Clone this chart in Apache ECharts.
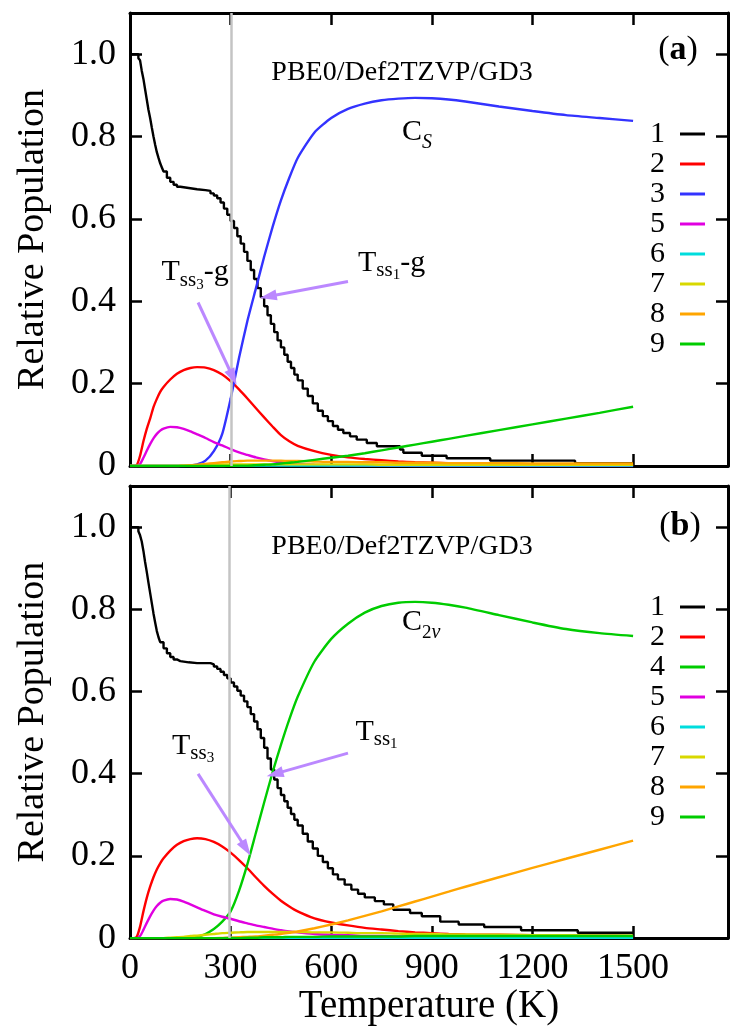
<!DOCTYPE html>
<html><head><meta charset="utf-8">
<script src="https://cdn.jsdelivr.net/npm/echarts@6/dist/echarts.min.js"></script>
<style>html,body{margin:0;padding:0;background:#fff}#c{width:730px;height:1027px}</style>
</head><body><div id="c"></div>
<script>
// ---------------- DATA ----------------
const temps = [0,10,20,30,40,50,60,70,80,90,100,120,140,160,180,200,225,250,275,300,325,350,375,400,425,450,475,500,550,600,650,700,750,800,850,900,950,1000,1100,1200,1300,1400,1500];

// panel (a)
const a_black_T = [0,15,25,30,35,40,45,50,55,60,65,70,75,80,85,90,95,100,110,120,130,140,150,175,200,225,240,250,260,270,280,290,300,310,320,330,340,350,360,370,380,390,400,410,420,430,440,450,460,470,480,490,500,515,530,545,560,575,590,605,620,636,656,676,706,736,805,815,870,944,1074,1327,1500];
const a_black_V = [1.0,1.0,0.99,0.985,0.96,0.94,0.915,0.89,0.865,0.845,0.822,0.8,0.78,0.762,0.748,0.735,0.725,0.715,0.70,0.69,0.683,0.678,0.675,0.672,0.67,0.668,0.662,0.657,0.65,0.64,0.625,0.61,0.595,0.578,0.558,0.54,0.52,0.498,0.476,0.454,0.432,0.41,0.388,0.366,0.345,0.325,0.305,0.288,0.27,0.253,0.238,0.222,0.208,0.188,0.17,0.152,0.134,0.121,0.109,0.097,0.088,0.08,0.072,0.064,0.056,0.048,0.04,0.032,0.025,0.019,0.013,0.007,0.007];
const a_s2 = [0,0,0.002,0.025,0.06,0.09,0.115,0.143,0.163,0.18,0.192,0.21,0.224,0.233,0.238,0.24,0.239,0.233,0.222,0.206,0.186,0.164,0.141,0.118,0.096,0.075,0.06,0.049,0.036,0.027,0.021,0.017,0.014,0.011,0.009,0.008,0.007,0.006,0.005,0.004,0.004,0.003,0.003];
const a_s3 = [0,0,0,0,0,0,0,0,0,0,0,0,0,0,0.001,0.004,0.013,0.036,0.078,0.163,0.262,0.352,0.43,0.508,0.58,0.645,0.7,0.748,0.81,0.845,0.867,0.88,0.888,0.892,0.894,0.893,0.89,0.885,0.873,0.862,0.852,0.845,0.838];
const a_s5 = [0,0,0,0.005,0.02,0.037,0.053,0.067,0.078,0.086,0.091,0.095,0.094,0.09,0.084,0.077,0.068,0.058,0.05,0.041,0.033,0.027,0.021,0.016,0.012,0.009,0.007,0.005,0.003,0.002,0.0015,0.001,0.001,0.0005,0,0,0,0,0,0,0,0,0];
const a_s6 = [0,0,0,0,0,0,0,0,0,0,0,0,0,0,0,0,0,0,0,0.001,0.001,0.001,0.001,0.001,0.001,0.001,0.001,0.001,0.001,0.001,0.001,0.001,0.001,0.001,0.001,0.001,0.001,0.001,0.001,0.001,0.001,0.001,0.001];
const a_s7 = [0,0,0,0,0,0,0,0,0,0,0,0,0,0.001,0.001,0.002,0.003,0.003,0.004,0.004,0.004,0.004,0.004,0.004,0.004,0.004,0.004,0.004,0.004,0.004,0.004,0.004,0.003,0.003,0.003,0.003,0.003,0.003,0.003,0.003,0.003,0.003,0.003];
const a_s8 = [0,0,0,0,0,0,0,0,0,0,0,0,0,0.001,0.002,0.003,0.005,0.007,0.009,0.011,0.012,0.013,0.013,0.013,0.013,0.013,0.012,0.012,0.011,0.01,0.01,0.009,0.009,0.008,0.008,0.008,0.007,0.007,0.007,0.006,0.006,0.006,0.006];
const a_s9 = [0,0,0,0,0,0,0,0,0,0,0,0,0,0,0,0,0,0,0,0.0005,0.001,0.001,0.002,0.003,0.004,0.006,0.008,0.01,0.015,0.02,0.025,0.031,0.038,0.045,0.052,0.059,0.066,0.073,0.087,0.101,0.115,0.129,0.144];

// panel (b)
const b_black_T = [0,15,25,30,35,40,45,50,55,60,65,70,75,80,85,90,100,110,120,130,140,150,175,200,225,240,250,260,270,280,290,300,310,320,330,340,350,360,370,380,390,400,410,420,430,440,450,460,470,480,490,500,515,530,545,560,575,590,605,620,640,660,680,700,730,757,785,835,870,925,980,1056,1166,1335,1500];
const b_black_V = [1.0,1.0,0.99,0.98,0.965,0.942,0.915,0.891,0.865,0.84,0.815,0.79,0.768,0.747,0.732,0.72,0.705,0.693,0.684,0.678,0.674,0.671,0.669,0.669,0.669,0.666,0.661,0.655,0.648,0.64,0.632,0.622,0.612,0.602,0.59,0.576,0.562,0.545,0.527,0.508,0.487,0.463,0.437,0.41,0.386,0.365,0.348,0.333,0.317,0.302,0.288,0.274,0.254,0.235,0.218,0.2,0.185,0.17,0.155,0.143,0.13,0.118,0.108,0.099,0.09,0.082,0.069,0.061,0.053,0.04,0.033,0.027,0.019,0.013,0.013];
const b_s2 = [0,0,0.003,0.028,0.065,0.098,0.125,0.148,0.167,0.182,0.194,0.213,0.227,0.236,0.241,0.243,0.241,0.234,0.223,0.208,0.19,0.17,0.148,0.127,0.108,0.091,0.077,0.065,0.048,0.038,0.031,0.025,0.021,0.017,0.014,0.012,0.01,0.009,0.008,0.007,0.006,0.006,0.005];
const b_s4 = [0,0,0,0,0,0,0,0,0,0,0,0,0,0,0.001,0.003,0.01,0.022,0.04,0.065,0.115,0.18,0.255,0.33,0.403,0.47,0.532,0.587,0.673,0.728,0.765,0.792,0.808,0.816,0.818,0.816,0.811,0.804,0.786,0.768,0.752,0.742,0.735];
const b_s5 = [0,0,0,0.005,0.02,0.037,0.053,0.067,0.078,0.086,0.091,0.095,0.094,0.089,0.082,0.075,0.066,0.058,0.052,0.047,0.041,0.036,0.031,0.027,0.023,0.019,0.016,0.014,0.01,0.008,0.007,0.005,0.005,0.004,0.004,0.003,0.003,0.003,0.002,0.002,0.002,0.002,0.002];
const b_s6 = [0,0,0,0,0,0,0,0,0,0,0,0,0,0,0,0,0,0,0,0.001,0.001,0.001,0.001,0.001,0.001,0.001,0.001,0.001,0.001,0.001,0.001,0.001,0.001,0.001,0.001,0.001,0.001,0.001,0.001,0.001,0.001,0.001,0.001];
const b_s7 = [0,0,0,0,0,0,0,0,0,0,0,0.001,0.002,0.003,0.005,0.006,0.008,0.01,0.012,0.013,0.014,0.015,0.015,0.015,0.015,0.015,0.015,0.015,0.014,0.014,0.013,0.012,0.012,0.011,0.01,0.01,0.009,0.009,0.008,0.007,0.007,0.006,0.006];
const b_s8 = [0,0,0,0,0,0,0,0,0,0,0,0,0,0,0,0,0,0,0.0005,0.001,0.002,0.003,0.004,0.006,0.008,0.01,0.013,0.016,0.024,0.033,0.043,0.054,0.065,0.077,0.089,0.101,0.113,0.125,0.148,0.171,0.193,0.215,0.237];
const b_s9 = [0,0,0,0,0,0,0,0,0,0,0,0,0,0,0,0,0,0,0,0,0,0.001,0.001,0.002,0.002,0.002,0.003,0.003,0.003,0.004,0.004,0.004,0.004,0.004,0.005,0.005,0.005,0.005,0.005,0.005,0.005,0.005,0.005];

const xTickValues = [0,300,600,900,1200,1500];
const xTickLabels = ['0','300','600','900','1200','1500'];
const yTickValues = [0,0.2,0.4,0.6,0.8,1.0];
const yTickLabels = ['0','0.2','0.4','0.6','0.8','1.0'];
const legendA = ['1','2','3','5','6','7','8','9'];
const legendB = ['1','2','4','5','6','7','8','9'];
const roomTempA = 302, roomTempB = 295;

// ---------------- STYLE ----------------
const FONT = "'Liberation Serif', 'Times New Roman', serif";
const COLORS = {'1':'#000000','2':'#ff0000','3':'#3333ff','4':'#00cc00','5':'#e000e0','6':'#00dddd','7':'#d8d800','8':'#ffa500','9':'#00cc00'};
const ARROW = '#bb88ff';
const XMAX = 1783;
const LW = 2.4;

function pairs(xs, ys){ return xs.map((x,i)=>[x, ys[i]]); }

function curve(name, vals, g){
  return {type:'line', name:name, xAxisIndex:g, yAxisIndex:g, data:pairs(temps, vals),
    symbol:'none', smooth:0.2, lineStyle:{width:LW, color:COLORS[name]}, itemStyle:{color:COLORS[name]},
    z:3, silent:true, animation:false};
}
function black(T, V, g){
  return {type:'line', name:'1', xAxisIndex:g, yAxisIndex:g, data:pairs(T, V), step:'end',
    symbol:'none', lineStyle:{width:LW, color:'#000'}, itemStyle:{color:'#000'}, z:3, silent:true, animation:false};
}

const rich = {
  t:{fontFamily:FONT, fontSize:30, color:'#000', verticalAlign:'bottom', lineHeight:30, padding:[0,0,6,0]},
  s:{fontFamily:FONT, fontSize:21, color:'#000', verticalAlign:'bottom', lineHeight:21, padding:[0,0,3,0]},
  n:{fontFamily:FONT, fontSize:15, color:'#000', verticalAlign:'bottom', lineHeight:15, padding:[0,0,1,0]},
  c:{fontFamily:FONT, fontSize:30, color:'#000', verticalAlign:'bottom', lineHeight:30, padding:[0,0,6,0]},
  si:{fontFamily:FONT, fontSize:20, fontStyle:'italic', color:'#000', verticalAlign:'bottom', lineHeight:20, padding:[0,0,0,0]},
  s2:{fontFamily:FONT, fontSize:19, color:'#000', verticalAlign:'bottom', lineHeight:19, padding:[0,0,0,0]},
  p:{fontFamily:FONT, fontSize:34, color:'#000'},
  b:{fontFamily:FONT, fontSize:34, fontWeight:'bold', color:'#000'},
  m:{fontFamily:FONT, fontSize:28, color:'#000'}
};

function textMark(coord, fmt){
  return {coord:coord, label:{formatter:fmt}};
}

function annSeries(g, texts, arrows){
  return {type:'line', name:'_ann'+g, xAxisIndex:g, yAxisIndex:g, data:[], z:10, silent:true, animation:false,
    markPoint:{symbol:'circle', symbolSize:1, silent:true, animation:false,
      itemStyle:{color:'rgba(0,0,0,0)'},
      label:{show:true, position:'inside', rich:rich, color:'#000'},
      data:texts},
    markLine:{silent:true, animation:false, symbol:['none','triangle'], symbolSize:[11,17],
      lineStyle:{color:ARROW, width:3, type:'solid'}, label:{show:false}, emphasis:{disabled:true},
      data:arrows}
  };
}
function bgSeries(g, T){
  return {type:'line', name:'_bg'+g, xAxisIndex:g, yAxisIndex:g, data:[], z:1, silent:true, animation:false,
    markLine:{silent:true, animation:false, symbol:['none','none'], label:{show:false},
      lineStyle:{color:'#c4c4c4', width:2.5, type:'solid'}, emphasis:{disabled:true},
      data:[{xAxis:T}]}};
}

function xAxes(g, showLabels){
  const common = {gridIndex:g, type:'value', min:0, max:XMAX, splitLine:{show:false},
    axisLine:{show:true, onZero:false, lineStyle:{color:'#000', width:3}},
    axisTick:{show:true, inside:true, length:12, lineStyle:{color:'#000', width:2.5}, customValues:xTickValues.slice(1)}};
  const bottom = Object.assign({}, common, {position:'bottom',
    axisLabel:{show:showLabels, customValues:xTickValues, formatter:(v)=>xTickLabels[xTickValues.indexOf(v)],
      fontFamily:FONT, fontSize:36, color:'#000', margin:12},
    name: showLabels ? 'Temperature (K)' : '', nameLocation:'middle', nameGap:44,
    nameTextStyle:{fontFamily:FONT, fontSize:39, color:'#000'}});
  const top = Object.assign({}, common, {position:'top', axisLabel:{show:false}});
  return [bottom, top];
}
function yAxes(g){
  const common = {gridIndex:g, type:'value', min:0, max:1.1, splitLine:{show:false},
    axisLine:{show:true, onZero:false, lineStyle:{color:'#000', width:3}},
    axisTick:{show:true, inside:true, length:12, lineStyle:{color:'#000', width:2.5}, customValues:yTickValues.slice(1)}};
  const left = Object.assign({}, common, {position:'left',
    axisLabel:{show:true, customValues:yTickValues, formatter:(v)=>yTickLabels[yTickValues.indexOf(v)],
      fontFamily:FONT, fontSize:36, color:'#000', margin:14},
    name:'Relative Population', nameLocation:'middle', nameGap:78,
    nameTextStyle:{fontFamily:FONT, fontSize:38, color:'#000'}});
  const right = Object.assign({}, common, {position:'right', axisLabel:{show:false}});
  return [left, right];
}

const xa = xAxes(0,false), xb = xAxes(1,true), ya = yAxes(0), yb = yAxes(1);

const legendCommon = {orient:'vertical', right:25, align:'right', icon:'rect', itemWidth:25, itemHeight:3, itemGap:0, padding:0,
  selectedMode:false, textStyle:{fontFamily:FONT, fontSize:30, color:'#000', lineHeight:29.4, padding:[0,10,0,0]}};

const option = {
  backgroundColor:'#fff',
  animation:false,
  grid:[
    {left:130, top:13, width:598, height:453},
    {left:130, top:486, width:598, height:453}
  ],
  xAxis:[xa[0], xb[0], xa[1], xb[1]],
  yAxis:[ya[0], yb[0], ya[1], yb[1]],
  legend:[
    Object.assign({data:legendA, top:119}, legendCommon),
    Object.assign({data:legendB, top:592}, legendCommon)
  ],
  series:[
    bgSeries(0, roomTempA),
    black(a_black_T, a_black_V, 0),
    curve('2', a_s2, 0), curve('3', a_s3, 0), curve('5', a_s5, 0), curve('6', a_s6, 0),
    curve('7', a_s7, 0), curve('8', a_s8, 0), curve('9', a_s9, 0),
    annSeries(0, [
      textMark([194,0.455], '{t|T}{s|ss}{n|3}{t|-g}'),
      textMark([780,0.479], '{t|T}{s|ss}{n|1}{t|-g}'),
      textMark([811,0.954], '{m|PBE0/Def2TZVP/GD3}'),
      textMark([856,0.797], '{c|C}{si|S}'),
      textMark([1634,1.01], '{p|(}{b|a}{p|)}')
    ], [
      [{coord:[203,0.397]},{coord:[307,0.2155]}],
      [{coord:[650,0.448]},{coord:[412,0.4116]}]
    ]),
    bgSeries(1, roomTempB),
    black(b_black_T, b_black_V, 1),
    curve('2', b_s2, 1), curve('4', b_s4, 1), curve('5', b_s5, 1), curve('6', b_s6, 1),
    curve('7', b_s7, 1), curve('8', b_s8, 1), curve('9', b_s9, 1),
    annSeries(1, [
      textMark([188,0.453], '{t|T}{s|ss}{n|3}'),
      textMark([735,0.487], '{t|T}{s|ss}{n|1}'),
      textMark([811,0.952], '{m|PBE0/Def2TZVP/GD3}'),
      textMark([868,0.755], '{c|C}{s2|2}{si|v}'),
      textMark([1640,1.002], '{p|(}{b|b}{p|)}')
    ], [
      [{coord:[203,0.3995]},{coord:[346,0.218]}],
      [{coord:[650,0.450]},{coord:[432,0.3995]}]
    ])
  ]
};
const chart = echarts.init(document.getElementById('c'));
chart.setOption(option);
</script></body></html>
